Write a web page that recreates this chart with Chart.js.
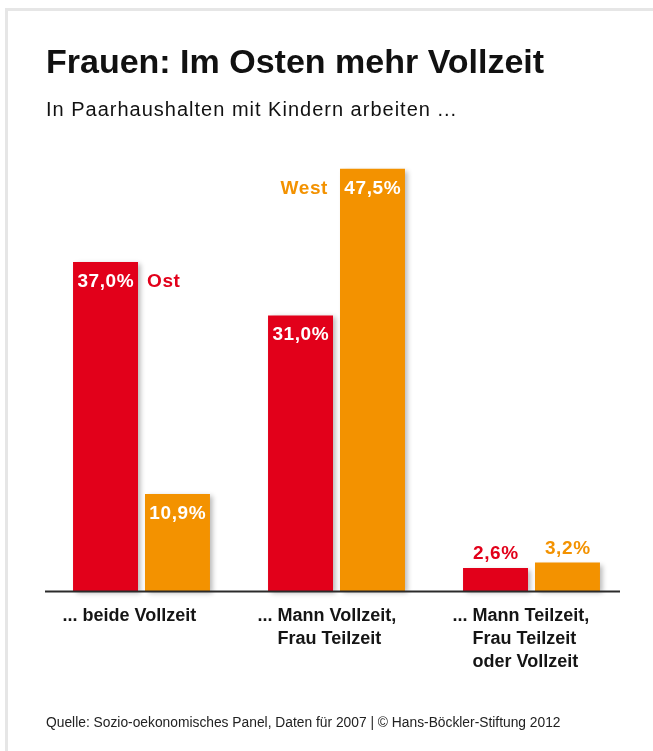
<!DOCTYPE html>
<html lang="de">
<head>
<meta charset="utf-8">
<title>Frauen: Im Osten mehr Vollzeit</title>
<script src="https://cdn.jsdelivr.net/npm/chart.js@4.4.1/dist/chart.umd.min.js"></script>
<style>
  html, body { margin: 0; padding: 0; background: #fff; }
  body { width: 653px; height: 751px; position: relative; overflow: hidden;
         font-family: "Liberation Sans", Arial, Helvetica, sans-serif; }
  .frame { position: absolute; left: 5px; top: 8px; right: 0; bottom: 0;
           border-top: 3px solid #e6e6e6; border-left: 3px solid #e6e6e6; }
  #chart { position: absolute; left: 0; top: 0; }
  .txt { position: absolute; left: 46px; line-height: 1; white-space: nowrap; color: #111; }
  .title { top: 43.5px; font-size: 34px; font-weight: bold; }
  .subtitle { top: 99px; font-size: 20px; letter-spacing: 1px; }
  .source { top: 715.5px; font-size: 13.8px; color: #222; }
</style>
</head>
<body>
<div class="frame"></div>
<canvas id="chart" width="653" height="751"></canvas>
<div class="txt title">Frauen: Im Osten mehr Vollzeit</div>
<div class="txt subtitle">In Paarhaushalten mit Kindern arbeiten ...</div>
<div class="txt source">Quelle: Sozio-oekonomisches Panel, Daten für 2007 | © Hans-Böckler-Stiftung 2012</div>

<script>
// Anteile in Prozent
const categories = [
  ["... beide Vollzeit"],
  ["... Mann Vollzeit,", "    Frau Teilzeit"],
  ["... Mann Teilzeit,", "    Frau Teilzeit", "    oder Vollzeit"],
];
const seriesNames = ["Ost", "West"];
const ostValues = [37.0, 31.0, 2.6];
const westValues = [10.9, 47.5, 3.2];

const RED = "#e2001a";
const ORANGE = "#f39200";
const FONT = "'Liberation Sans', Arial, Helvetica, sans-serif";

function fmt(v) {
  return v.toFixed(1).replace(".", ",") + "%";
}

// Schatten unter den Balken, Werte und Serien-Namen, Grundlinie
const barDecor = {
  id: "barDecor",
  beforeDatasetsDraw(chart) {
    const ctx = chart.ctx;
    ctx.save();
    ctx.shadowColor = "rgba(0,0,0,0.28)";
    ctx.shadowBlur = 5;
    ctx.shadowOffsetX = 3;
    ctx.shadowOffsetY = 2;
  },
  afterDatasetsDraw(chart) {
    const ctx = chart.ctx;
    ctx.restore();
    const area = chart.chartArea;

    // Grundlinie
    ctx.save();
    ctx.strokeStyle = "#2b2b2b";
    ctx.lineWidth = 1.8;
    ctx.beginPath();
    ctx.moveTo(area.left + 1, area.bottom + 0.5);
    ctx.lineTo(area.right - 9, area.bottom + 0.5);
    ctx.stroke();
    ctx.restore();

    ctx.save();
    ctx.font = "bold 19px " + FONT;
    ctx.letterSpacing = "0.6px";
    ctx.textBaseline = "alphabetic";
    chart.data.datasets.forEach((ds, di) => {
      const meta = chart.getDatasetMeta(di);
      let maxIdx = 0;
      ds.data.forEach((v, i) => { if (v > ds.data[maxIdx]) maxIdx = i; });
      meta.data.forEach((bar, i) => {
        const v = ds.data[i];
        const h = bar.base - bar.y;
        ctx.textAlign = "center";
        let baseY;
        if (h > 40) {
          ctx.fillStyle = "#fff";
          baseY = bar.y + 25;
          ctx.fillText(fmt(v), bar.x + 0.3, baseY);
        } else {
          ctx.fillStyle = ds.backgroundColor;
          baseY = bar.y - 9;
          ctx.fillText(fmt(v), bar.x + 0.3, baseY);
        }
        if (i === maxIdx) {
          ctx.fillStyle = ds.backgroundColor;
          const half = bar.width / 2;
          if (di === 0) {
            ctx.textAlign = "left";
            ctx.fillText(ds.label, bar.x + half + 9, baseY);
          } else {
            ctx.textAlign = "right";
            ctx.fillText(ds.label, bar.x - half - 12, baseY);
          }
        }
      });
    });
    ctx.restore();
  },
};

new Chart(document.getElementById("chart").getContext("2d"), {
  type: "bar",
  data: {
    labels: categories,
    datasets: [
      { label: seriesNames[0], data: ostValues, backgroundColor: RED, clip: false },
      { label: seriesNames[1], data: westValues, backgroundColor: ORANGE, clip: false },
    ],
  },
  options: {
    responsive: false,
    animation: false,
    devicePixelRatio: 1,
    categoryPercentage: 0.738,
    barPercentage: 0.903,
    layout: { autoPadding: false, padding: { top: 146.5, left: 44, right: 24, bottom: 20 } },
    plugins: {
      legend: { display: false },
      tooltip: { enabled: false },
    },
    scales: {
      x: {
        grid: { display: false, drawTicks: false },
        border: { display: false },
        afterFit: (scale) => {
          scale.height = 140;
          scale.paddingLeft = 0;
          scale.paddingRight = 0;
        },
        ticks: {
          align: "start",
          labelOffset: -79,
          padding: 14,
          maxRotation: 0,
          autoSkip: false,
          color: "#151515",
          font: { family: FONT, size: 18, weight: "bold", lineHeight: 1.26 },
        },
      },
      y: {
        display: false,
        min: 0,
        max: 50,
      },
    },
  },
  plugins: [barDecor],
});
</script>
</body>
</html>
